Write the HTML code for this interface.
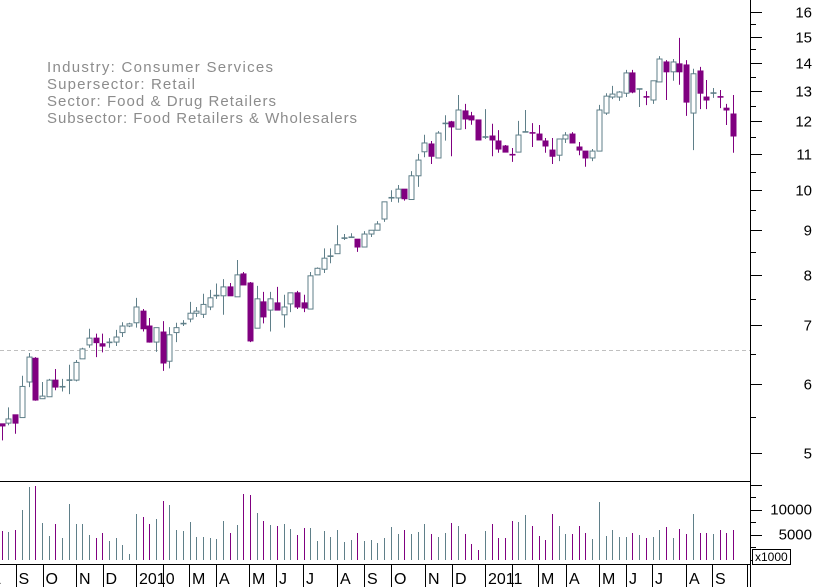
<!DOCTYPE html>
<html><head><meta charset="utf-8"><style>
html,body{margin:0;padding:0;background:#fff;}
svg{display:block;font-family:"Liberation Sans",sans-serif;}
</style></head><body>
<svg id="chart" width="817" height="587" viewBox="0 0 817 587" xmlns="http://www.w3.org/2000/svg">
<rect x="0" y="0" width="817" height="587" fill="#fff"/>
<g id="info" font-size="15" fill="#8c8c8c">
<text x="47" y="72" textLength="226" lengthAdjust="spacing">Industry: Consumer Services</text>
<text x="47" y="89" textLength="148" lengthAdjust="spacing">Supersector: Retail</text>
<text x="47" y="106" textLength="229" lengthAdjust="spacing">Sector: Food &amp; Drug Retailers</text>
<text x="47" y="123" textLength="310" lengthAdjust="spacing">Subsector: Food Retailers &amp; Wholesalers</text>
</g>
<line x1="0" y1="350.5" x2="750" y2="350.5" stroke="#c0c0c0" stroke-dasharray="4,3"/>
<g id="candles"></g>
<g id="vols"></g>
<g id="axes"></g>
</svg>
<script>
const opens=[5.40,5.41,5.53,5.49,6.03,6.42,5.77,5.80,6.06,5.96,6.06,6.06,6.41,6.65,6.77,6.67,6.70,6.70,6.87,6.99,7.05,7.27,6.99,6.70,6.88,6.37,6.87,7.04,7.12,7.23,7.21,7.35,7.58,7.57,7.75,7.55,8.02,7.83,6.95,7.45,7.29,7.43,7.20,7.41,7.63,7.43,7.31,8.00,8.12,8.40,8.46,8.82,8.84,8.79,8.61,8.91,9.00,9.27,9.81,9.80,10.03,9.76,10.39,11.07,11.30,10.89,11.94,11.98,11.75,12.33,12.17,12.04,11.52,11.54,11.39,11.24,10.97,11.06,11.66,11.64,11.60,11.39,11.12,10.97,11.45,11.60,11.21,11.09,10.89,11.09,12.26,12.79,12.79,12.92,13.63,13.07,12.80,12.69,13.31,14.03,13.67,13.96,13.92,12.26,13.70,12.79,12.93,12.80,12.42,12.23];
const highs=[5.40,5.64,5.53,6.13,6.51,6.44,6.03,6.08,6.24,6.08,6.31,6.39,6.60,6.94,6.85,6.85,6.77,6.92,7.06,7.05,7.53,7.31,7.14,6.96,7.08,6.97,7.05,7.10,7.45,7.35,7.61,7.69,7.82,7.91,7.83,8.32,8.06,7.85,7.77,7.65,7.65,7.75,7.59,7.63,7.67,7.59,8.06,8.16,8.58,8.58,9.12,8.91,8.93,8.79,8.98,9.00,9.22,9.70,10.00,10.14,10.03,10.52,11.01,11.58,11.39,11.69,12.19,12.01,12.86,12.56,12.30,12.04,12.39,11.92,11.72,11.27,11.18,12.01,12.36,11.94,11.88,11.48,11.48,11.45,11.66,11.66,11.36,11.09,11.15,12.53,12.92,13.17,12.99,13.74,13.74,13.07,12.99,13.35,14.25,14.10,14.14,14.95,14.10,13.78,13.85,13.38,13.10,13.03,12.56,12.86];
const lows=[5.17,5.38,5.26,5.49,5.95,5.74,5.77,5.80,5.90,5.88,5.84,6.04,6.41,6.60,6.44,6.52,6.60,6.63,6.79,6.97,6.96,6.89,6.69,6.53,6.21,6.25,6.70,6.99,7.06,7.16,7.14,7.29,7.51,7.20,7.57,7.55,7.79,6.70,6.95,7.04,6.89,7.29,6.96,7.25,7.31,7.25,7.31,8.00,8.04,8.25,8.46,8.77,8.83,8.50,8.61,8.84,9.00,9.20,9.70,9.68,9.73,9.76,10.09,10.91,10.72,10.89,11.40,10.94,11.75,11.75,11.89,11.42,11.45,10.94,11.04,11.06,10.78,11.06,11.66,11.21,11.42,11.04,10.72,10.80,11.33,11.33,10.97,10.64,10.80,11.09,12.20,12.72,12.66,12.79,12.92,12.46,12.52,12.56,13.31,12.69,13.35,13.21,12.17,11.12,12.39,12.39,12.76,12.42,11.88,11.04];
const closes=[5.37,5.47,5.41,5.96,6.44,5.75,5.81,6.06,5.95,5.95,6.06,6.35,6.58,6.77,6.69,6.63,6.69,6.79,6.99,7.03,7.35,6.94,6.70,6.96,6.34,6.83,6.96,7.03,7.23,7.27,7.40,7.53,7.57,7.75,7.57,8.00,7.79,6.72,7.51,7.16,7.51,7.29,7.35,7.63,7.35,7.33,7.98,8.14,8.36,8.41,8.66,8.81,8.83,8.61,8.91,9.00,9.15,9.70,9.80,10.03,9.78,10.39,10.83,11.33,10.94,11.63,11.92,11.82,12.36,12.07,12.04,11.42,11.50,11.42,11.15,11.06,11.00,11.57,11.67,11.63,11.42,11.24,10.94,11.45,11.57,11.33,11.12,10.89,11.09,12.36,12.82,12.89,12.96,13.63,12.96,13.06,12.79,13.35,14.14,13.67,14.03,13.67,12.62,13.60,12.92,12.69,12.92,12.79,12.36,11.54];
const volumes=[5700,5500,5900,9900,14500,14700,7300,4700,7100,4300,11100,7100,7100,4900,4300,5300,3700,4300,2900,1100,9100,8500,7100,8100,11700,10900,5900,5700,7500,4500,4500,4300,4100,7700,5300,6900,13100,12900,9300,7700,6900,6700,7100,6100,4900,6300,6300,3700,5700,4500,5900,3500,3900,5300,3700,3900,3300,4300,6500,5100,5900,5100,5500,7100,5100,4500,5300,7300,6700,5100,3100,1900,5700,7100,4300,4300,7700,7500,8900,6700,4700,3900,9100,6700,5100,5100,6700,5300,4100,11500,4700,5900,4500,4500,5300,4900,4300,4500,5900,6500,4300,6100,5100,9100,5300,5300,5100,5900,5300,5900];
const priceTicks=[5,6,7,8,9,10,11,12,13,14,15,16];
const volTicks=[5000,10000];
const monthLabels=["A","S","O","N","D","2010","","M","A","M","J","J","A","S","O","N","D","2011","","M","A","M","J","J","A","S"];
const monthStarts=[-13,15.5,42.5,76,102.5,136,163,189,216,249,276,303,337,364,391,425,452,485,511.5,538,566,599,626,652,686,712,747];

const NS="http://www.w3.org/2000/svg";
const GRAY="#5f7f89", PURPLE="#800080";
function yP(p){return 453-379*Math.log(p/5);}
function yV(v){return 559.5-v*25/5000;}
function xI(i){return 1.7+i*6.71;}
function mk(tag,attrs,parent){const e=document.createElementNS(NS,tag);for(const k in attrs)e.setAttribute(k,attrs[k]);parent.appendChild(e);return e;}
const cg=document.getElementById('candles'), vg=document.getElementById('vols'), ag=document.getElementById('axes');

for(let i=0;i<closes.length;i++){
  const prev=i>0?closes[i-1]:opens[i];
  const col=closes[i]<prev?PURPLE:GRAY;
  const cx=Math.round(xI(i))+0.5;
  const g=mk('g',{},cg);
  
  
  mk('line',{x1:cx,x2:cx,y1:yP(highs[i]),y2:yP(lows[i]),stroke:col,'stroke-width':1},g);
  const top=yP(Math.max(opens[i],closes[i])), bot=yP(Math.min(opens[i],closes[i]));
  const filled=closes[i]<opens[i];
  if(bot-top<1.5){
    mk('line',{x1:cx-3,x2:cx+3,y1:(top+bot)/2,y2:(top+bot)/2,stroke:col,'stroke-width':1.6},g);
  } else {
    mk('rect',{x:cx-2.5,y:top,width:5,height:bot-top,fill:filled?col:'#fff',stroke:col,'stroke-width':1},g);
  }
  const vb=mk('line',{x1:cx,x2:cx,y1:yV(volumes[i]),y2:560,stroke:col,'stroke-width':1},vg);
  
  
}

mk('line',{x1:750.5,x2:750.5,y1:0,y2:587,stroke:'#000'},ag);
mk('line',{x1:0,x2:750.5,y1:481.5,y2:481.5,stroke:'#000'},ag);
mk('line',{x1:0,x2:750.5,y1:564.5,y2:564.5,stroke:'#000'},ag);
for(let k=0;k<priceTicks.length;k++){
  const y=Math.round(yP(priceTicks[k]))+0.5;
  mk('line',{x1:750,x2:762,y1:y,y2:y,stroke:'#000'},ag);
  const t=mk('text',{x:812,y:y+5,'font-size':15,'text-anchor':'end',fill:'#000'},ag);
  t.textContent=String(priceTicks[k]);
  
  
  if(k<priceTicks.length-1){
    const ym=Math.round(yP(priceTicks[k]+0.5))+0.5;
    mk('line',{x1:750,x2:756,y1:ym,y2:ym,stroke:'#000'},ag);
  }
}
for(let v=0;v<=15000;v+=2500){
  const y=Math.round(yV(v))+0.5; if(y<483)continue;
  const major=v%5000===0;
  mk('line',{x1:750,x2:major?762:756,y1:y,y2:y,stroke:'#000'},ag);
}
for(const v of volTicks){
  const t=mk('text',{x:812,y:yV(v)+5,'font-size':15,'text-anchor':'end',fill:'#000'},ag);
  t.textContent=String(v);
  
  
}
mk('rect',{x:752.5,y:549.5,width:38,height:15,fill:'#fff',stroke:'#000'},ag);
const xt=mk('text',{x:755,y:561,'font-size':12,fill:'#000'},ag);
xt.textContent='x1000';


for(let m=0;m<monthStarts.length;m++){
  const x=Math.round(monthStarts[m])+0.5;
  if(x>0) mk('line',{x1:x,x2:x,y1:565,y2:587,stroke:'#000'},ag);
  if(m<monthLabels.length && monthLabels[m]){
    const t=mk('text',{x:monthStarts[m]+3,y:584,'font-size':16,fill:'#000'},ag);
    t.textContent=monthLabels[m];
    
    
  }
}
</script>
</body></html>
